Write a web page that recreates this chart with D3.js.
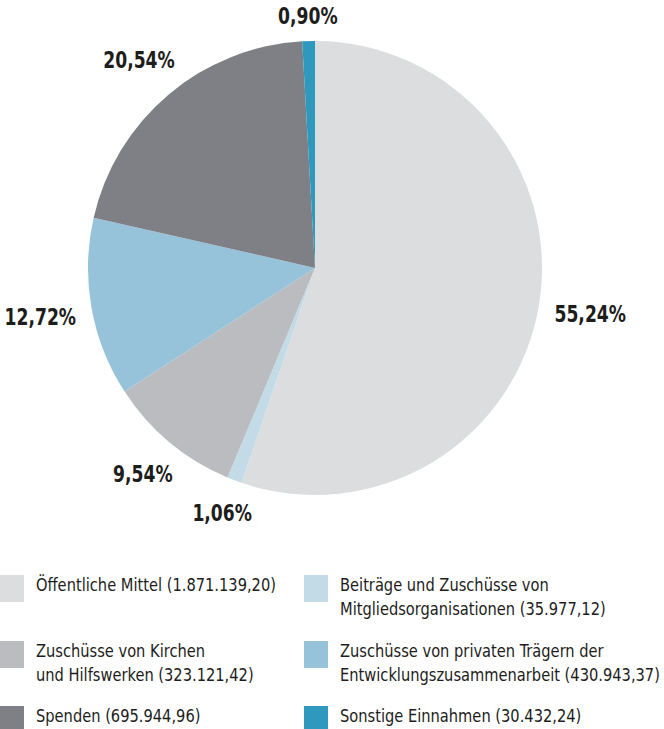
<!DOCTYPE html>
<html>
<head>
<meta charset="utf-8">
<script src="https://cdn.jsdelivr.net/npm/d3@7"></script>
<style>
  html, body { margin: 0; padding: 0; background: #fff; }
  svg { display: block; font-family: 'Liberation Sans Narrow', 'DejaVu Sans Condensed', sans-serif; }
</style>
</head>
<body>
<div id="chart"></div>
<script>
// Einnahmen nach Herkunft (Anteile in %, Beträge in Euro)
const categories = [
  'Öffentliche Mittel',
  'Beiträge und Zuschüsse von Mitgliedsorganisationen',
  'Zuschüsse von Kirchen und Hilfswerken',
  'Zuschüsse von privaten Trägern der Entwicklungszusammenarbeit',
  'Spenden',
  'Sonstige Einnahmen',
];
const shares = [55.24, 1.06, 9.54, 12.72, 20.54, 0.90];
const shareLabels = ['55,24%', '1,06%', '9,54%', '12,72%', '20,54%', '0,90%'];
const amountLabels = ['1.871.139,20', '35.977,12', '323.121,42', '430.943,37', '695.944,96', '30.432,24'];
// legend lines as printed (line breaks follow the reference)
const legendLines = [
  ['Öffentliche Mittel (1.871.139,20)'],
  ['Beiträge und Zuschüsse von', 'Mitgliedsorganisationen (35.977,12)'],
  ['Zuschüsse von Kirchen', 'und Hilfswerken (323.121,42)'],
  ['Zuschüsse von privaten Trägern der', 'Entwicklungszusammenarbeit (430.943,37)'],
  ['Spenden (695.944,96)'],
  ['Sonstige Einnahmen (30.432,24)'],
];
const colors = ['#dcdddf', '#c3dbe7', '#bbbcc0', '#96c3da', '#7f8085', '#2e99bd'];

const W = 664, H = 729;
const cx = 315, cy = 268, radius = 227;
const textColor = '#1d1d1b';
// the original face is a condensed one; squeeze the fallback horizontally
const pctSqueeze = 0.83;
const legSqueeze = 0.905;

const svg = d3.select('#chart').append('svg')
  .attr('width', W).attr('height', H)
  .attr('viewBox', `0 0 ${W} ${H}`);

const data = categories.map((c, i) => ({ name: c, value: shares[i], label: shareLabels[i], color: colors[i] }));

const pie = d3.pie().value((d) => d.value).sort(null);
const arc = d3.arc().innerRadius(0).outerRadius(radius);
const arcs = pie(data);

const g = svg.append('g').attr('transform', `translate(${cx},${cy})`);

g.selectAll('path.slice')
  .data(arcs)
  .enter()
  .append('path')
  .attr('class', 'slice')
  .attr('d', arc)
  .attr('fill', (d) => d.data.color);

// Percent labels outside, pushed out by their own box size
const pad = 15;
arcs.forEach((d) => {
  const lg = g.append('g');
  const t = lg.append('text')
    .attr('font-size', 23)
    .attr('font-weight', 'bold')
    .attr('fill', textColor)
    .attr('text-anchor', 'middle')
    .attr('y', 8)
    .text(d.data.label);
  const bb = t.node().getBBox();
  const a = (d.startAngle + d.endAngle) / 2;
  const s = Math.sin(a), c = Math.cos(a);
  const r = radius + pad + (bb.width * pctSqueeze / 2) * Math.abs(s) + (bb.height / 2) * Math.abs(c) * 0.75;
  lg.attr('transform', `translate(${r * s},${-r * c}) scale(${pctSqueeze},1)`);
});

// Legend: two columns, three rows
const colX = [0, 304];
const rowY = [575, 641, 706];
const sw = 24, sh = 27;
const legend = svg.append('g');
data.forEach((d, i) => {
  const col = i % 2, row = Math.floor(i / 2);
  const item = legend.append('g').attr('transform', `translate(${colX[col]},${rowY[row]})`);
  item.append('rect').attr('width', sw).attr('height', sh).attr('fill', d.color);
  const t = item.append('text')
    .attr('transform', `translate(${sw + 12},16) scale(${legSqueeze},1)`)
    .attr('font-size', 18)
    .attr('fill', textColor);
  legendLines[i].forEach((line, j) => {
    t.append('tspan').attr('x', 0).attr('dy', j === 0 ? 0 : 24).text(line);
  });
});
</script>
</body>
</html>
